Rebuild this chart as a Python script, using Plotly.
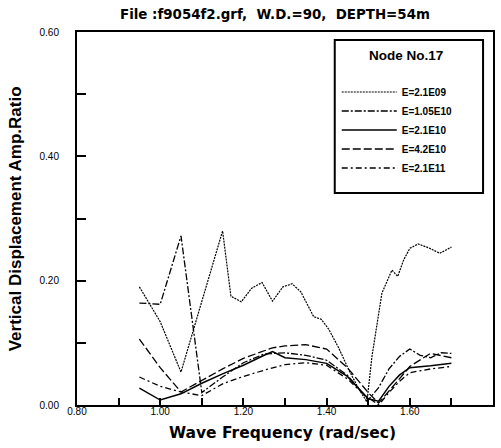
import plotly.graph_objects as go

# ---- data ----
names = ["E=2.1E09", "E=1.05E10", "E=2.1E10", "E=4.2E10", "E=2.1E11"]

f_e09 = [0.95, 1.00, 1.05, 1.15, 1.17, 1.195, 1.22, 1.245, 1.27, 1.295, 1.317, 1.338,
         1.369, 1.387, 1.405, 1.429, 1.453, 1.478, 1.497, 1.509, 1.533, 1.557, 1.571,
         1.585, 1.600, 1.620, 1.645, 1.672, 1.700]
v_e09 = [0.190, 0.134, 0.053, 0.280, 0.175, 0.166, 0.188, 0.197, 0.167, 0.190, 0.195, 0.182,
         0.142, 0.138, 0.122, 0.092, 0.057, 0.025, 0.005, 0.078, 0.180, 0.217, 0.207,
         0.233, 0.252, 0.259, 0.253, 0.244, 0.254]

f_e10a = [0.95, 1.00, 1.05, 1.10, 1.15, 1.20, 1.25, 1.30, 1.35, 1.40, 1.45, 1.475, 1.50,
          1.525, 1.55, 1.575, 1.60, 1.625, 1.65, 1.675, 1.70]
v_e10a = [0.164, 0.162, 0.272, 0.020, 0.045, 0.068, 0.082, 0.084, 0.080, 0.072, 0.048, 0.028,
          0.008, 0.028, 0.058, 0.078, 0.090, 0.080, 0.076, 0.084, 0.083]

f_grid = [0.95, 1.00, 1.05, 1.10, 1.15, 1.20, 1.25, 1.27, 1.30, 1.35, 1.40, 1.45, 1.475,
          1.50, 1.525, 1.55, 1.575, 1.60, 1.65, 1.70]
v_e10b = [0.027, 0.008, 0.018, 0.035, 0.050, 0.064, 0.080, 0.086, 0.076, 0.073, 0.067, 0.046,
          0.028, 0.010, 0.006, 0.030, 0.048, 0.060, 0.063, 0.067]
v_e10c = [0.106, 0.060, 0.021, 0.040, 0.058, 0.075, 0.088, 0.092, 0.095, 0.097, 0.090, 0.060,
          0.040, 0.020, 0.003, 0.022, 0.042, 0.062, 0.083, 0.076]
v_e11 = [0.045, 0.030, 0.021, 0.015, 0.034, 0.046, 0.056, 0.060, 0.065, 0.068, 0.064, 0.042,
         0.026, 0.012, 0.000, 0.020, 0.038, 0.052, 0.058, 0.062]

x_tickvals = [0.8, 1.0, 1.2, 1.4, 1.6, 1.8]
x_ticktext = ["0.80", "1.00", "1.20", "1.40", "1.60", "1.80"]
y_tickvals = [0.0, 0.2, 0.4, 0.6]
y_ticktext = ["0.00", "0.20", "0.40", "0.60"]

xs = [f_e09, f_e10a, f_grid, f_grid, f_grid]
ys = [v_e09, v_e10a, v_e10b, v_e10c, v_e11]
dashes = ["2px,1px", "7px,2px,2px,2px", "solid", "8px,3px", "6px,3px,2px,3px"]
widths = [1.2, 1.3, 1.5, 1.3, 1.3]

fig = go.Figure()
for n, x, y, d, w in zip(names, xs, ys, dashes, widths):
    fig.add_trace(go.Scatter(x=x, y=y, mode="lines", name=n,
                             line=dict(color="black", width=w, dash=d)))

tickfont = dict(family="Liberation Sans", size=10, color="black")
fig.update_xaxes(range=[0.8, 1.8], tickvals=x_tickvals, ticktext=x_ticktext,
                 ticks="inside", ticklen=7, tickwidth=1.5, tickcolor="black",
                 minor=dict(dtick=0.1, ticks="inside", ticklen=7, tickwidth=1.5, tickcolor="black"),
                 showline=True, linewidth=2, linecolor="black", mirror=True,
                 showgrid=False, zeroline=False, tickfont=tickfont, ticklabelstandoff=-4)
fig.update_yaxes(range=[0.0, 0.6], tickvals=y_tickvals, ticktext=y_ticktext,
                 ticks="inside", ticklen=9, tickwidth=1.5, tickcolor="black",
                 minor=dict(dtick=0.1, ticks="inside", ticklen=9, tickwidth=1.5, tickcolor="black"),
                 showline=True, linewidth=2, linecolor="black", mirror=True,
                 showgrid=False, zeroline=False, tickfont=tickfont, ticklabelstandoff=14)

fig.update_layout(
    width=501, height=448,
    margin=dict(l=77, r=6, t=32, b=43),
    plot_bgcolor="white", paper_bgcolor="white",
    showlegend=True,
    legend=dict(x=0.6244, y=0.878, xanchor="left", yanchor="top",
                bgcolor="rgba(0,0,0,0)", borderwidth=0,
                font=dict(family="Liberation Sans", size=10, color="black", weight="bold"),
                itemwidth=55, tracegroupgap=0),
    shapes=[dict(type="rect", xref="paper", yref="paper", x0=0.6196, x1=0.9761,
                 y0=0.5684, y1=0.9786, line=dict(color="black", width=2))],
    annotations=[
        dict(text="<b>Node No.17</b>", x=0.7919, y=0.9383,
             xref="paper", yref="paper", xanchor="center", yanchor="middle",
             showarrow=False, font=dict(family="Liberation Sans", size=13.5, color="black")),
        dict(text="<b>File :f9054f2.grf,&nbsp; W.D.=90,&nbsp; DEPTH=54m</b>", x=0.476, y=1.048,
             xref="paper", yref="paper", xanchor="center", yanchor="middle",
             showarrow=False, font=dict(family="DejaVu Sans", size=13.4, color="black")),
        dict(text="<b>Wave Frequency (rad/sec)</b>", x=0.493, y=-0.075,
             xref="paper", yref="paper", xanchor="center", yanchor="middle",
             showarrow=False, font=dict(family="DejaVu Sans", size=15.5, color="black")),
        dict(text="<b>Vertical Displacement Amp.Ratio</b>", x=-0.1459, y=0.4987,
             xref="paper", yref="paper", xanchor="center", yanchor="middle", textangle=-90,
             showarrow=False, font=dict(family="Liberation Sans", size=17, color="black")),
    ],
)

fig.write_html("out.html", config={"displayModeBar": False},
               post_script="document.body.style.margin='0';")
